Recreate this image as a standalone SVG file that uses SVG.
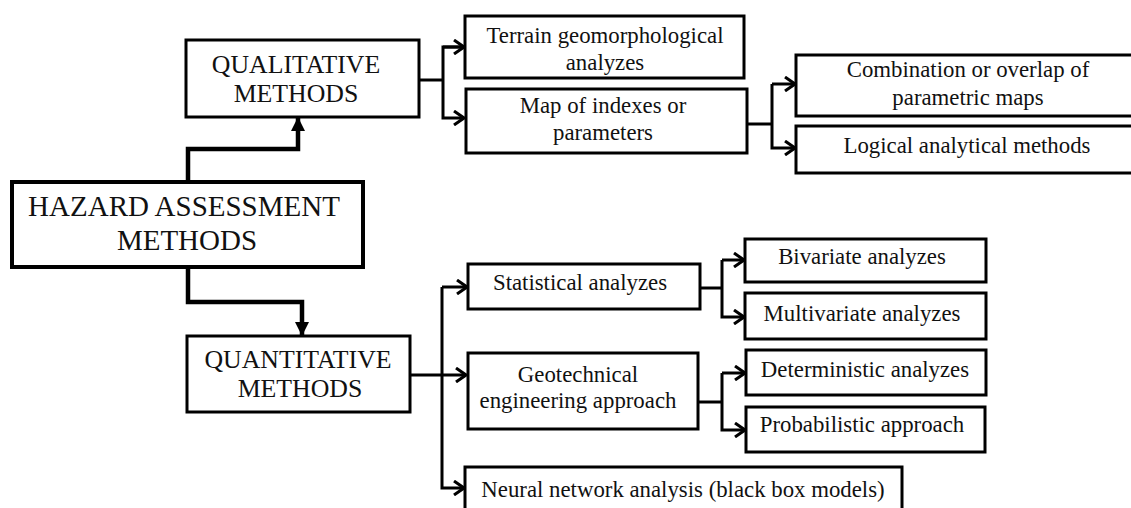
<svg xmlns="http://www.w3.org/2000/svg" width="1131" height="508" viewBox="0 0 1131 508">
  <style>
    .box { fill: #fff; stroke: #000; stroke-width: 3; }
    .main { fill: #fff; stroke: #000; stroke-width: 4; }
    .lbl { font-family: "Liberation Serif", "Times New Roman", serif; font-size: 22.8px; fill: #111; text-anchor: middle; }
    .big { font-size: 25.8px; }
    .huge { font-size: 29px; }
    .wire { fill: none; stroke: #000; stroke-width: 3; }
    .trunk { fill: none; stroke: #000; stroke-width: 4.5; }
  </style>
  <defs>
    <marker id="open" viewBox="0 0 12 16" refX="11" refY="8" markerWidth="12" markerHeight="16" markerUnits="userSpaceOnUse" orient="auto">
      <path d="M1,1 L11,8 L1,15" fill="none" stroke="#000" stroke-width="3"/>
    </marker>
    <marker id="solid" viewBox="0 0 14 14" refX="13" refY="7" markerWidth="14" markerHeight="14" markerUnits="userSpaceOnUse" orient="auto">
      <path d="M0,0 L14,7 L0,14 Z" fill="#000"/>
    </marker>
  </defs>

  <!-- connectors -->
  <g id="connectors">
    <!-- root to the two method families -->
    <path class="trunk" d="M188,182 V149 H298 V118" marker-end="url(#solid)"/>
    <path class="trunk" d="M188,267 V302 H302 V335" marker-end="url(#solid)"/>
    <!-- qualitative branches -->
    <path class="wire" d="M419,80 H443"/>
    <path class="wire" d="M464,47 H443 V118 H464" marker-end="url(#open)"/>
    <path class="wire" d="M443,47 H464" marker-end="url(#open)"/>
    <!-- map of indexes branches -->
    <path class="wire" d="M747,124 H772"/>
    <path class="wire" d="M772,84 V148 H795" marker-end="url(#open)"/>
    <path class="wire" d="M772,84 H795" marker-end="url(#open)"/>
    <!-- quantitative branches -->
    <path class="wire" d="M410,375 H466" marker-end="url(#open)"/>
    <path class="wire" d="M442,287 V488 H464" marker-end="url(#open)"/>
    <path class="wire" d="M442,287 H467" marker-end="url(#open)"/>
    <!-- statistical branches -->
    <path class="wire" d="M700,288 H722"/>
    <path class="wire" d="M722,260 V317 H744" marker-end="url(#open)"/>
    <path class="wire" d="M722,260 H744" marker-end="url(#open)"/>
    <!-- geotechnical branches -->
    <path class="wire" d="M698,402 H722"/>
    <path class="wire" d="M722,373 V430 H745" marker-end="url(#open)"/>
    <path class="wire" d="M722,373 H745" marker-end="url(#open)"/>
  </g>

  <g id="hazard">
    <rect class="main" x="12" y="182" width="351" height="85"/>
    <text class="lbl huge" x="184" y="216">HAZARD ASSESSMENT</text>
    <text class="lbl huge" x="187" y="250">METHODS</text>
  </g>

  <g id="qualitative">
    <rect class="box" x="186" y="40" width="233" height="77"/>
    <text class="lbl big" x="296" y="73">QUALITATIVE</text>
    <text class="lbl big" x="296" y="102">METHODS</text>
  </g>

  <g id="quantitative">
    <rect class="box" x="187" y="336" width="223" height="76"/>
    <text class="lbl big" x="298" y="368">QUANTITATIVE</text>
    <text class="lbl big" x="300" y="397">METHODS</text>
  </g>

  <g id="terrain">
    <rect class="box" x="465" y="16" width="279" height="62"/>
    <text class="lbl" x="605" y="43">Terrain geomorphological</text>
    <text class="lbl" x="605" y="70">analyzes</text>
  </g>

  <g id="map-indexes">
    <rect class="box" x="466" y="89" width="281" height="64"/>
    <text class="lbl" x="603" y="113">Map of indexes or</text>
    <text class="lbl" x="603" y="140">parameters</text>
  </g>

  <g id="combination">
    <rect class="box" x="796" y="55" width="345" height="61"/>
    <text class="lbl" x="968" y="77">Combination or overlap of</text>
    <text class="lbl" x="968" y="105">parametric maps</text>
  </g>

  <g id="logical">
    <rect class="box" x="796" y="126" width="345" height="47"/>
    <text class="lbl" x="967" y="153">Logical analytical methods</text>
  </g>

  <g id="statistical">
    <rect class="box" x="468" y="264" width="232" height="45"/>
    <text class="lbl" x="580" y="290">Statistical analyzes</text>
  </g>

  <g id="geotechnical">
    <rect class="box" x="468" y="353" width="230" height="76"/>
    <text class="lbl" x="578" y="382">Geotechnical</text>
    <text class="lbl" x="578" y="408">engineering approach</text>
  </g>

  <g id="neural">
    <rect class="box" x="465" y="467" width="437" height="60"/>
    <text class="lbl" x="683" y="497">Neural network analysis (black box models)</text>
  </g>

  <g id="bivariate">
    <rect class="box" x="745" y="239" width="241" height="43"/>
    <text class="lbl" x="862" y="264">Bivariate analyzes</text>
  </g>

  <g id="multivariate">
    <rect class="box" x="745" y="293" width="241" height="46"/>
    <text class="lbl" x="862" y="321">Multivariate analyzes</text>
  </g>

  <g id="deterministic">
    <rect class="box" x="746" y="350" width="240" height="45"/>
    <text class="lbl" x="865" y="377">Deterministic analyzes</text>
  </g>

  <g id="probabilistic">
    <rect class="box" x="746" y="407" width="239" height="45"/>
    <text class="lbl" x="862" y="432">Probabilistic approach</text>
  </g>
</svg>
